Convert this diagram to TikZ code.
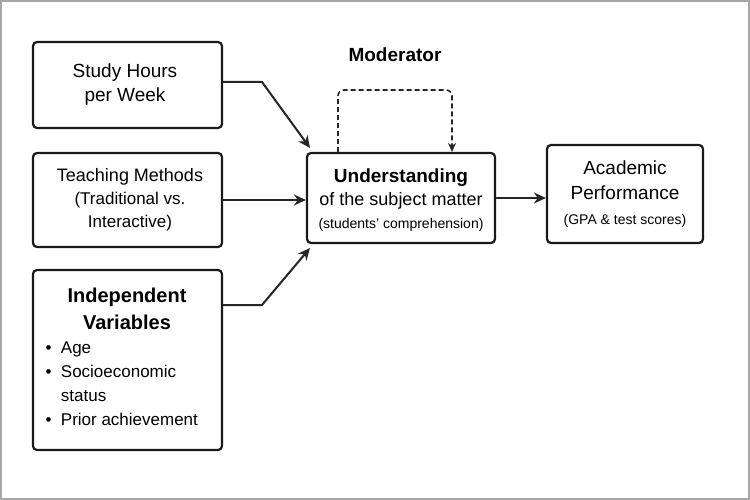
\documentclass[tikz,border=0pt]{standalone}
\usepackage{fontspec}
\setmainfont{Liberation Sans}
\usetikzlibrary{arrows.meta}
\begin{document}
\begin{tikzpicture}[x=1pt,y=-1pt,
  box/.style={draw=black!90,line width=2.2pt,rounded corners=4pt,align=center,inner sep=0pt},
  arr/.style={line width=2pt,draw=black!85,-{Stealth[length=12pt,width=11pt]}}]
\useasboundingbox (0,0) rectangle (750,500);
\draw[black!35,line width=1.5pt] (1,1) rectangle (749,499);
\node[box,minimum width=189pt,minimum height=86pt] (b1) at (127.5,85) {};
\node[align=center,font=\fontsize{19}{24}\selectfont] (b1t) at (125,85) {Study Hours\\per Week};
\node[box,minimum width=189pt,minimum height=94pt] (b2) at (127.5,200) {};
\node[align=center,font=\fontsize{18}{23}\selectfont] (b2t) at (130,200) {Teaching Methods\\{\fontsize{17}{23}\selectfont (Traditional vs.}\\{\fontsize{17}{23}\selectfont Interactive)}};
\node[box,minimum width=189pt,minimum height=180pt] (b3) at (127.5,360) {};
\node[align=center,font=\bfseries\fontsize{20}{27}\selectfont] (b3t) at (127,309) {Independent\\Variables};
\node[anchor=north west,align=left,font=\fontsize{17}{24}\selectfont] (b3l) at (42,338) {\textbullet\ \ Age\\\textbullet\ \ Socioeconomic\\\phantom{\textbullet}\ \ status\\\textbullet\ \ Prior achievement};
\node[box,minimum width=188pt,minimum height=90pt] (c) at (401,198) {};
\node[align=center,font=\fontsize{18}{23}\selectfont] (ct) at (401,200) {{\bfseries\fontsize{19}{23}\selectfont Understanding}\\of the subject matter\\{\fontsize{14}{22}\selectfont (students' comprehension)}};
\node[box,minimum width=156pt,minimum height=98pt] (r) at (625,194) {};
\node[align=center,font=\fontsize{19}{25}\selectfont] (rt) at (625,194) {Academic\\Performance\\{\fontsize{14}{22}\selectfont (GPA \& test scores)}};
\node[font=\bfseries\fontsize{19}{23}\selectfont] (mod) at (395,55) {Moderator};
\coordinate (k1) at (262,82);
\coordinate (k3) at (262,305);
\draw[arr] (b1.east|-k1) -- (k1) -- (310,148);
\draw[arr] (b2.east) -- (c.west|-b2.east);
\draw[arr] (b3.east|-k3) -- (k3) -- (310,248);
\draw[arr] (c.east) -- (r.west|-c.east);
\draw[line width=1.6pt,draw=black!85,dash pattern=on 5pt off 3pt,rounded corners=6pt,-{Stealth[length=9pt,width=8pt]}] (338,152) -- (338,90) -- (452,90) -- (452,152);
\end{tikzpicture}
\end{document}
